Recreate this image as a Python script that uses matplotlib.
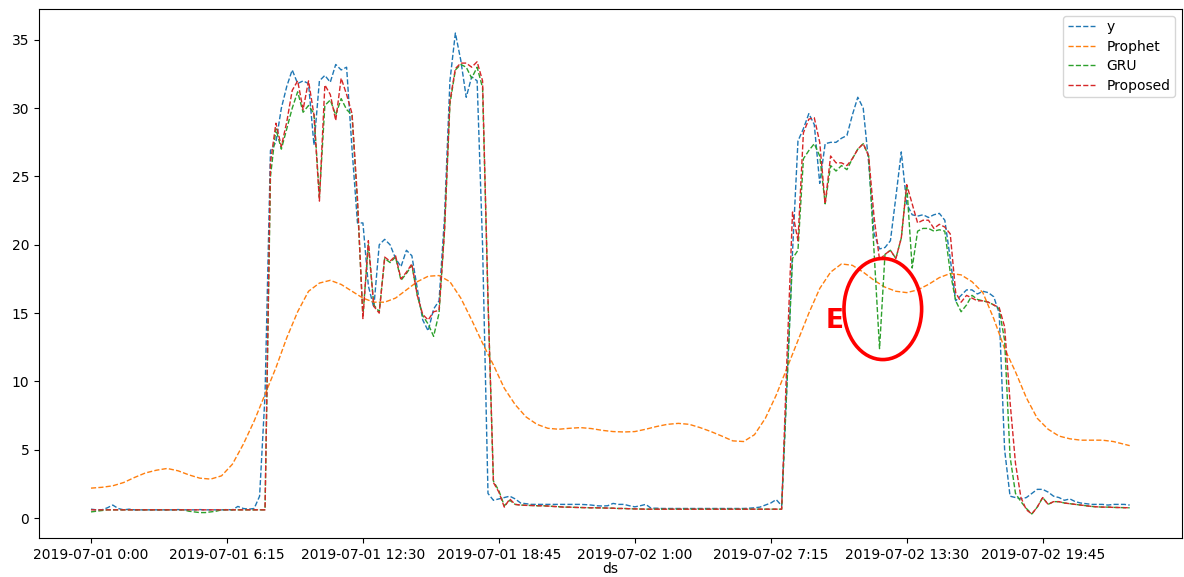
#!/usr/bin/env python3
from datetime import datetime

import numpy as np
import pandas as pd
import matplotlib
matplotlib.use('Agg')
import matplotlib.pyplot as plt
import matplotlib.dates as mdates
from matplotlib.patches import Ellipse

# 15-minute samples, 2019-07-01 00:00 .. 2019-07-02 23:45
start = '2019-07-01 00:00'
n_points = 192

y_obs = [
    0.65, 0.6, 0.6, 0.75, 0.95, 0.7, 0.6, 0.65, 0.6, 0.6, 0.6, 0.6, 0.6, 0.6, 0.6, 0.6,
    0.62, 0.6, 0.6, 0.6, 0.62, 0.6, 0.6, 0.6, 0.6, 0.62, 0.6, 0.85, 0.7, 0.65, 0.7, 1.6,
    9.0, 26.9, 27.5, 30.0, 31.6, 32.8, 31.8, 32.0, 31.8, 27.3, 32.0, 32.4, 31.9, 33.2, 32.8, 33.0,
    27.0, 21.6, 21.6, 17.0, 15.4, 20.0, 20.4, 20.0, 19.0, 18.4, 19.6, 19.2, 16.8, 14.5, 13.7, 15.3,
    15.9, 22.0, 32.0, 35.5, 33.5, 30.8, 32.3, 32.0, 20.0, 1.8, 1.3, 1.4, 1.5, 1.6, 1.4, 1.1,
    1.05, 1.0, 1.0, 1.0, 1.0, 1.0, 1.0, 1.0, 1.0, 1.0, 1.0, 0.98, 0.95, 0.9, 0.88, 0.9,
    1.07, 1.0, 1.0, 0.9, 0.82, 0.9, 1.0, 0.72, 0.72, 0.7, 0.7, 0.7, 0.7, 0.7, 0.7, 0.7,
    0.7, 0.7, 0.7, 0.7, 0.7, 0.7, 0.7, 0.7, 0.7, 0.72, 0.75, 0.8, 0.95, 1.1, 1.35, 0.9,
    10.0, 19.5, 27.6, 28.5, 29.6, 28.8, 24.5, 27.4, 27.5, 27.5, 27.8, 28.0, 29.5, 30.8, 30.0, 26.0,
    20.8, 19.7, 19.8, 20.3, 23.5, 26.8, 23.0, 22.2, 22.1, 22.2, 22.0, 22.2, 22.3, 21.8, 19.0, 15.9,
    16.3, 16.7, 16.7, 16.4, 16.6, 16.5, 16.2, 15.0, 5.0, 1.6, 1.5, 1.4, 1.5, 1.8, 2.1, 2.1,
    1.9, 1.6, 1.5, 1.3, 1.4, 1.2, 1.1, 1.05, 1.0, 1.0, 1.0, 0.95, 1.0, 1.0, 1.0, 0.95,
]

gru = [
    0.45, 0.5, 0.55, 0.6, 0.6, 0.6, 0.6, 0.6, 0.6, 0.6, 0.6, 0.6, 0.6, 0.6, 0.6, 0.6,
    0.6, 0.6, 0.5, 0.45, 0.4, 0.4, 0.45, 0.5, 0.6, 0.6, 0.6, 0.6, 0.6, 0.6, 0.6, 0.6,
    0.6, 25.0, 28.5, 27.0, 28.5, 30.0, 31.2, 29.7, 30.2, 29.6, 23.5, 30.2, 30.6, 29.5, 30.7, 29.9,
    29.5, 23.0, 14.8, 20.0, 15.6, 15.1, 19.0, 18.7, 19.1, 17.4, 17.9, 18.5, 16.3, 14.8, 14.2, 13.3,
    15.0, 21.0, 30.3, 32.8, 33.2, 33.0, 32.2, 33.0, 31.5, 16.0, 2.7, 2.0, 0.9, 1.3, 1.0, 0.95,
    0.93, 0.92, 0.9, 0.9, 0.88, 0.85, 0.83, 0.8, 0.8, 0.78, 0.77, 0.76, 0.75, 0.75, 0.74, 0.73,
    0.72, 0.7, 0.7, 0.68, 0.67, 0.66, 0.65, 0.65, 0.65, 0.65, 0.65, 0.65, 0.65, 0.65, 0.65, 0.65,
    0.65, 0.65, 0.65, 0.65, 0.65, 0.65, 0.65, 0.65, 0.65, 0.65, 0.65, 0.65, 0.65, 0.65, 0.65, 0.65,
    10.0, 19.0, 19.6, 26.3, 26.9, 27.4, 26.5, 23.0, 25.8, 25.4, 25.8, 25.5, 26.3, 27.0, 27.4, 26.5,
    19.5, 12.4, 19.3, 19.6, 19.0, 20.5, 24.4, 18.3, 21.0, 21.2, 21.2, 21.0, 21.1, 21.0, 18.0, 15.9,
    15.1, 15.6, 16.3, 16.0, 15.9, 15.8, 15.6, 15.3, 13.0, 4.5, 1.8, 1.2, 0.7, 0.3, 0.8, 1.5,
    1.0, 1.2, 1.2, 1.1, 1.05, 1.0, 0.95, 0.9, 0.85, 0.82, 0.8, 0.8, 0.78, 0.77, 0.76, 0.75,
]

proposed = [
    0.6, 0.6, 0.6, 0.6, 0.6, 0.6, 0.6, 0.6, 0.6, 0.6, 0.6, 0.6, 0.6, 0.6, 0.6, 0.6,
    0.6, 0.6, 0.6, 0.6, 0.6, 0.6, 0.6, 0.6, 0.6, 0.6, 0.6, 0.6, 0.6, 0.6, 0.6, 0.6,
    0.6, 26.0, 28.9, 27.2, 29.0, 31.3, 32.0, 29.9, 32.0, 29.5, 23.2, 31.7, 31.0, 29.1, 32.2, 31.0,
    29.6, 23.4, 14.6, 20.3, 15.5, 15.0, 19.1, 18.8, 19.2, 17.5, 18.0, 18.6, 16.3, 14.9, 14.5, 15.1,
    15.2, 21.0, 30.5, 32.9, 33.3, 33.3, 33.0, 33.4, 32.0, 16.0, 2.6, 1.9, 0.8, 1.4, 1.0, 0.95,
    0.93, 0.92, 0.9, 0.9, 0.88, 0.85, 0.83, 0.8, 0.8, 0.78, 0.77, 0.76, 0.75, 0.75, 0.74, 0.73,
    0.72, 0.7, 0.7, 0.68, 0.67, 0.66, 0.65, 0.65, 0.65, 0.65, 0.65, 0.65, 0.65, 0.65, 0.65, 0.65,
    0.65, 0.65, 0.65, 0.65, 0.65, 0.65, 0.65, 0.65, 0.65, 0.65, 0.65, 0.65, 0.65, 0.65, 0.65, 0.65,
    12.0, 22.4, 20.3, 28.2, 29.2, 29.3, 27.5, 23.0, 26.5, 26.0, 26.0, 25.8, 26.3, 27.0, 27.4, 26.5,
    22.0, 18.9, 19.3, 19.6, 19.0, 20.5, 24.4, 23.0, 21.6, 21.8, 21.8, 21.2, 21.5, 21.3, 20.8, 16.5,
    15.8, 16.3, 16.1, 15.9, 15.9, 15.8, 15.6, 15.4, 14.0, 8.5, 4.0, 1.5, 0.6, 0.3, 0.8, 1.5,
    1.0, 1.2, 1.2, 1.1, 1.05, 1.0, 0.95, 0.9, 0.85, 0.82, 0.8, 0.8, 0.78, 0.77, 0.76, 0.75,
]

# Prophet forecast read every 30 minutes (plus the last 23:45 sample)
prophet_end = '2019-07-02 23:45'
prophet = [
    2.19, 2.25, 2.36, 2.6, 2.97, 3.3, 3.5, 3.63, 3.46, 3.16, 2.92, 2.85, 3.09, 3.94, 5.4, 7.1,
    9.05, 11.0, 13.2, 15.1, 16.6, 17.2, 17.4, 17.1, 16.6, 16.1, 15.8, 15.8, 16.1, 16.7, 17.3, 17.7,
    17.75, 17.3, 16.1, 14.5, 12.8, 11.2, 9.5, 8.3, 7.4, 6.86, 6.57, 6.5, 6.57, 6.62, 6.55, 6.42,
    6.33, 6.3, 6.33, 6.5, 6.7, 6.86, 6.93, 6.86, 6.62, 6.33, 6.0, 5.65, 5.6, 6.1, 7.3, 9.0,
    11.0, 13.0, 15.0, 16.8, 18.0, 18.6, 18.5, 18.0, 17.4, 16.9, 16.6, 16.5, 16.7, 17.1, 17.6, 17.9,
    17.8, 17.3, 16.5, 14.6, 12.4, 10.7, 8.8, 7.3, 6.5, 6.0, 5.8, 5.7, 5.7, 5.7, 5.6, 5.4,
    5.3,
]

def main():
    times = pd.date_range(start, periods=n_points, freq='15min')
    x = mdates.date2num(times.to_pydatetime())
    ptimes = pd.date_range(start, periods=len(prophet) - 1, freq='30min').append(
        pd.DatetimeIndex([prophet_end]))
    xp = mdates.date2num(ptimes.to_pydatetime())

    fig = plt.figure(figsize=(11.84, 5.77), dpi=100)
    ax = fig.add_axes([0.033, 0.0676, 0.965, 0.9168])

    ax.plot(x, y_obs, '--', color='tab:blue', lw=1.0, label='y')
    ax.plot(xp, prophet, '--', color='tab:orange', lw=1.0, label='Prophet')
    ax.plot(x, gru, '--', color='tab:green', lw=1.0, label='GRU')
    ax.plot(x, proposed, '--', color='tab:red', lw=1.0, label='Proposed')

    ticks = times[::25]
    ax.set_xticks(x[::25])
    ax.set_xticklabels(['%s %d:%s' % (t.strftime('%Y-%m-%d'), t.hour, t.strftime('%M')) for t in ticks],
                       fontsize=10)
    ax.tick_params(axis='y', labelsize=10)
    ax.set_xlabel('ds', fontsize=10, labelpad=0)

    ax.legend(loc='upper right', fontsize=10, labelspacing=0.4, borderpad=0.3)

    # highlighted GRU error
    cx = mdates.date2num(datetime(2019, 7, 2, 12, 24))
    ax.add_patch(Ellipse((cx, 15.3), width=3.57 / 24, height=7.4, fill=False,
                         edgecolor='red', lw=2.6, zorder=5))
    ax.text(mdates.date2num(datetime(2019, 7, 2, 10, 10)), 14.4, 'E', color='red',
            fontsize=19, fontweight='bold', ha='center', va='center', zorder=5)

    fig.savefig('out.png', dpi=100)

if __name__ == '__main__':
    main()
